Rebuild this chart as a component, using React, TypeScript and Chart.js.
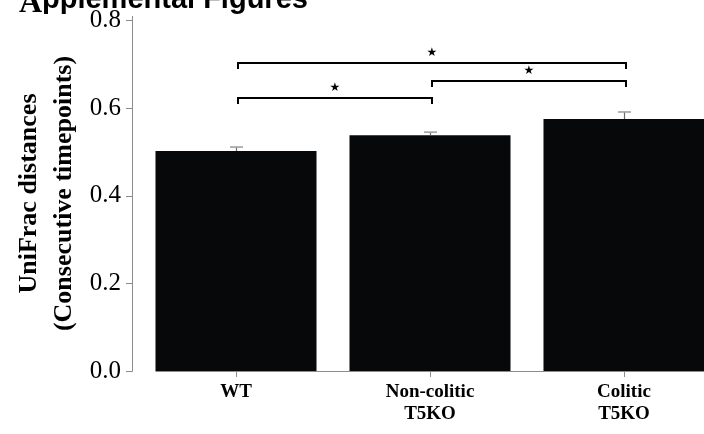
import React, { useEffect, useRef } from "react";
import { Chart, registerables } from "chart.js";

Chart.register(...registerables);

// ---- data ----
const categories: string[][] = [["WT"], ["Non-colitic", "T5KO"], ["Colitic", "T5KO"]];
const means: number[] = [0.502, 0.538, 0.575];
const errors: number[] = [0.009, 0.007, 0.016];
const yTicks: number[] = [0.0, 0.2, 0.4, 0.6, 0.8];
const yTitle: string[] = ["UniFrac distances", "(Consecutive timepoints)"];
const bracketFrom: number[] = [0, 1, 0];
const bracketTo: number[] = [2, 2, 1];
const bracketLevel: number[] = [0.702, 0.661, 0.624];
const bracketMark: string[] = ["★", "★", "★"];
const panelLetter = "A";
const pageTitle = "pplemental Figures";

const AXIS_GRAY = "#8c8c8c";

const overlayPlugin = {
  id: "overlay",
  afterDatasetsDraw(chart: any) {
    const { ctx, chartArea, scales } = chart;
    const x = scales.x;
    const y = scales.y;
    ctx.save();
    // x axis baseline starting at the first bar
    const firstBar = chart.getDatasetMeta(0).data[0];
    const startX = firstBar ? firstBar.x - firstBar.width / 2 : chartArea.left;
    const by = Math.round(chartArea.bottom) + 0.5;
    ctx.strokeStyle = AXIS_GRAY;
    ctx.lineWidth = 1;
    ctx.beginPath();
    ctx.moveTo(startX, by);
    ctx.lineTo(chartArea.right, by);
    ctx.stroke();
    // error bars
    means.forEach((m, i) => {
      const cx = Math.round(x.getPixelForValue(i)) + 0.5;
      const base = y.getPixelForValue(m);
      const top = y.getPixelForValue(m + errors[i]);
      ctx.strokeStyle = "#6a6a6a";
      ctx.lineWidth = 1.2;
      ctx.beginPath();
      ctx.moveTo(cx, base);
      ctx.lineTo(cx, top);
      ctx.stroke();
      ctx.strokeStyle = "#a0a0a0";
      ctx.lineWidth = 1.6;
      ctx.beginPath();
      ctx.moveTo(cx - 6.5, top);
      ctx.lineTo(cx + 6.5, top);
      ctx.stroke();
    });
    // y axis line (offset from plot)
    const ax = Math.round(chartArea.left - 7) + 0.5;
    ctx.strokeStyle = AXIS_GRAY;
    ctx.lineWidth = 1;
    ctx.beginPath();
    ctx.moveTo(ax, chartArea.top);
    ctx.lineTo(ax, chartArea.bottom + 0.5);
    ctx.stroke();
    yTicks.forEach((v) => {
      const py = Math.round(y.getPixelForValue(v)) + 0.5;
      ctx.beginPath();
      ctx.moveTo(ax - 6.5, py);
      ctx.lineTo(ax, py);
      ctx.stroke();
    });
    // significance brackets
    ctx.strokeStyle = "#000";
    ctx.lineWidth = 2;
    ctx.fillStyle = "#000";
    ctx.font = "12px 'DejaVu Sans'";
    ctx.textAlign = "center";
    ctx.textBaseline = "middle";
    bracketLevel.forEach((lvl, i) => {
      const x1 = x.getPixelForValue(bracketFrom[i]) + 2;
      const x2 = x.getPixelForValue(bracketTo[i]) + 2;
      const yy = Math.round(y.getPixelForValue(lvl));
      ctx.beginPath();
      ctx.moveTo(x1, yy + 6);
      ctx.lineTo(x1, yy);
      ctx.lineTo(x2, yy);
      ctx.lineTo(x2, yy + 6);
      ctx.stroke();
      ctx.fillText(bracketMark[i], (x1 + x2) / 2, yy - 10);
    });
    ctx.restore();
  },
  afterDraw(chart: any) {
    const { ctx } = chart;
    ctx.save();
    ctx.fillStyle = "#000";
    ctx.textAlign = "left";
    ctx.textBaseline = "alphabetic";
    ctx.font = "bold 29px 'Liberation Sans'";
    ctx.fillText(pageTitle, 42, 8);
    ctx.font = "bold 32px 'Liberation Serif'";
    ctx.fillText(panelLetter, 19, 12);
    ctx.restore();
  },
};

export default function App() {
  const ref = useRef<HTMLCanvasElement | null>(null);
  useEffect(() => {
    if (!ref.current) return;
    const chart = new Chart(ref.current, {
      type: "bar",
      data: {
        labels: categories,
        datasets: [
          {
            data: means,
            backgroundColor: "#07080a",
            borderWidth: 0,
            barPercentage: 0.83,
            categoryPercentage: 1,
          },
        ],
      },
      options: {
        animation: false,
        responsive: false,
        devicePixelRatio: 1,
        layout: { padding: { top: 16, right: 19, left: 0, bottom: 0 } },
        plugins: { legend: { display: false }, tooltip: { enabled: false } },
        scales: {
          x: {
            offset: true,
            grid: {
              display: true,
              drawOnChartArea: false,
              offset: false,
              tickLength: 6,
              color: AXIS_GRAY,
            },
            border: { display: false },
            ticks: {
              color: "#000",
              font: { family: "'Liberation Serif'", size: 19, weight: "bold", lineHeight: 1.15 },
              padding: 4,
              maxRotation: 0,
              autoSkip: false,
            },
            afterFit: (s: any) => {
              s.height = 63;
              s.paddingLeft = 0;
              s.paddingRight = 0;
            },
          },
          y: {
            min: 0,
            max: 0.81,
            grid: { display: false },
            border: { display: false },
            afterBuildTicks: (s: any) => {
              s.ticks = yTicks.map((v) => ({ value: v }));
            },
            ticks: {
              color: "#000",
              font: { family: "'Liberation Serif'", size: 25 },
              padding: 10,
              callback: (v: any) => Number(v).toFixed(1),
            },
            title: {
              display: true,
              text: yTitle,
              color: "#000",
              font: { family: "'Liberation Serif'", size: 26, weight: "bold", lineHeight: 1.35 },
              padding: { top: 12, bottom: 0 },
            },
            afterFit: (s: any) => {
              s.width = 139;
              s.paddingTop = 0;
              s.paddingBottom = 0;
            },
          },
        },
      },
      plugins: [overlayPlugin],
    });
    return () => chart.destroy();
  }, []);
  return (
    <div
      style={{
        position: "absolute",
        left: 0,
        top: 0,
        width: 704,
        height: 434,
        overflow: "hidden",
        background: "#fff",
      }}
    >
      <canvas ref={ref} width={740} height={434} style={{ display: "block" }} />
    </div>
  );
}
